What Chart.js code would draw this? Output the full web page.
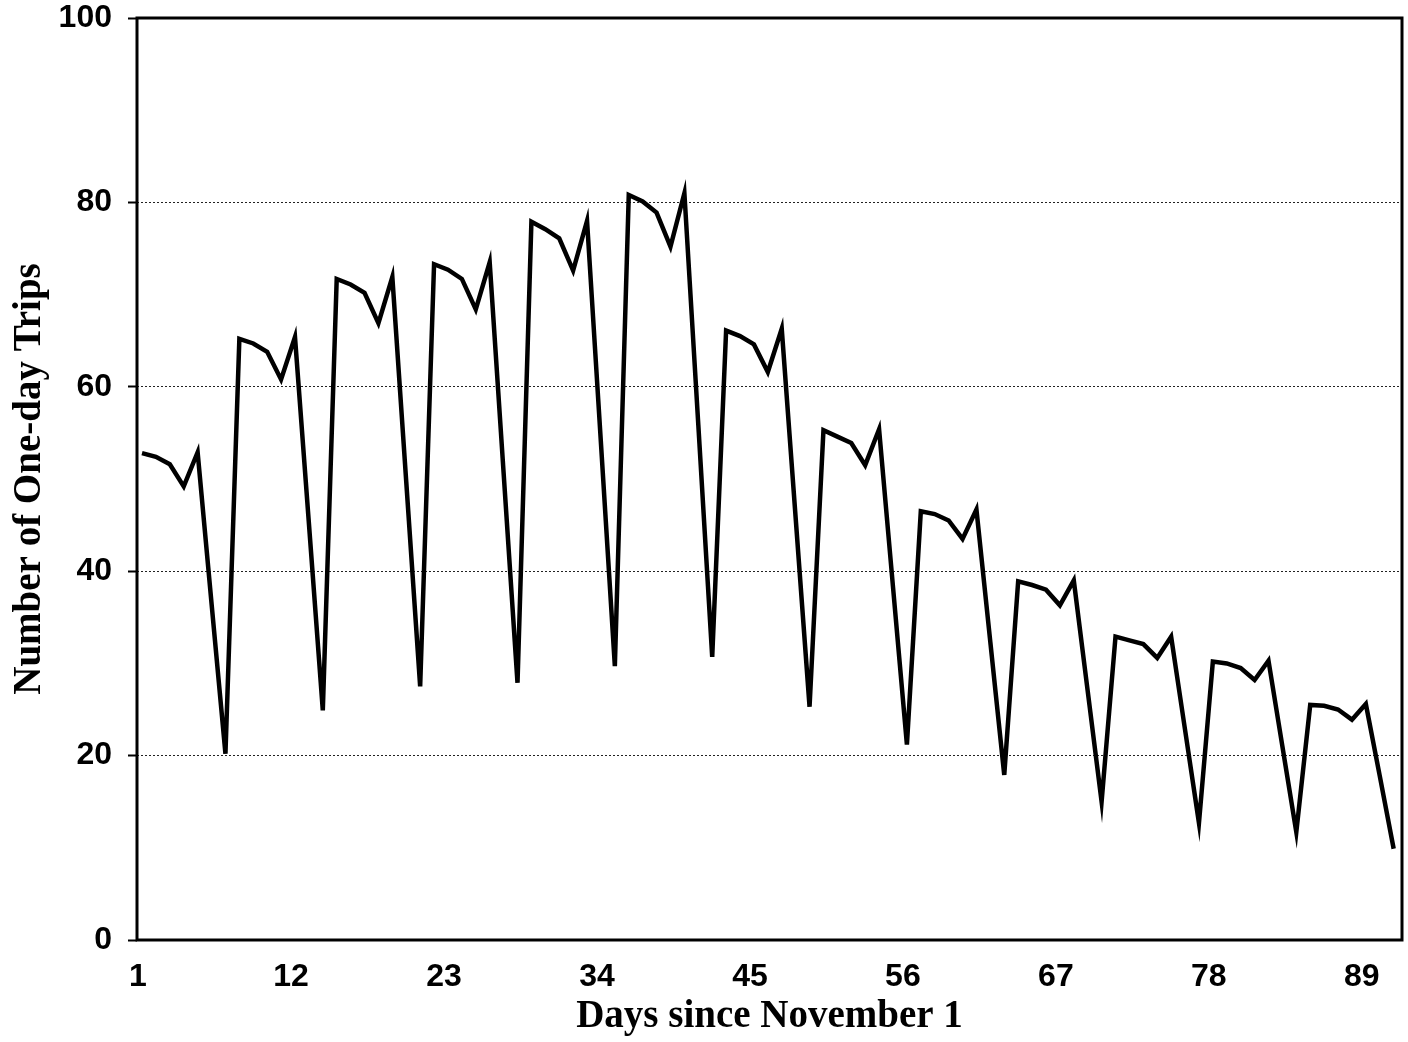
<!DOCTYPE html>
<html>
<head>
<meta charset="utf-8">
<script src="https://cdn.jsdelivr.net/npm/chart.js@4"></script>
<style>
  body { margin: 0; background: #fff; }
  #wrap { width: 1408px; height: 1042px; }
</style>
</head>
<body>
<div id="wrap"><canvas id="myChart" width="1408" height="1042"></canvas></div>
<script>
// days since November 1 (1..91)
const days = Array.from({ length: 91 }, (_, i) => i + 1);

// number of one-day trips
const trips = [
  52.8, 52.4, 51.6, 49.2, 52.9, 36.5, 20.2,
  65.2, 64.7, 63.8, 60.8, 65.4, 45.2, 24.9,
  71.7, 71.1, 70.2, 66.9, 71.9, 49.7, 27.5,
  73.3, 72.7, 71.7, 68.4, 73.5, 50.7, 27.9,
  77.9, 77.1, 76.1, 72.6, 78.0, 53.9, 29.7,
  80.8, 80.1, 78.9, 75.2, 81.0, 55.9, 30.7,
  66.1, 65.5, 64.6, 61.6, 66.3, 45.8, 25.3,
  55.3, 54.6, 53.9, 51.5, 55.4, 38.3, 21.2,
  46.5, 46.2, 45.5, 43.5, 46.7, 32.3, 17.9,
  38.9, 38.5, 38.0, 36.3, 39.0, 27.0, 15.0,
  32.9, 32.5, 32.1, 30.6, 32.9, 22.8, 12.7,
  30.2, 30.0, 29.5, 28.2, 30.3, 21.0, 11.7,
  25.5, 25.4, 25.0, 23.9, 25.6, 17.8, 9.9
];

const xTickLabels = [1, 12, 23, 34, 45, 56, 67, 78, 89];
const yTickLabels = [0, 20, 40, 60, 80, 100];

const tickFont = { family: "'Liberation Sans', Arial, sans-serif", weight: 'bold', size: 32 };
const titleFont = { family: "'Liberation Serif', 'Times New Roman', serif", weight: 'bold', size: 39 };

// black box round the plot area
const frame = {
  id: 'frame',
  afterDraw(chart) {
    const { ctx, chartArea: a } = chart;
    ctx.save();
    ctx.strokeStyle = '#000';
    ctx.lineWidth = 3;
    ctx.strokeRect(a.left, a.top, a.right - a.left, a.bottom - a.top);
    ctx.restore();
  }
};

function generateChart() {
  const tripChart = new Chart(
    document.getElementById('myChart'),
    {
      type: 'line',
      data: {
        datasets: [
          {
            label: 'Trips',
            data: days.map((d, i) => ({ x: d, y: trips[i] })),
            borderColor: '#000',
            borderWidth: 4.5,
            pointRadius: 0,
            tension: 0,
            fill: false
          }
        ]
      },
      plugins: [frame],
      options: {
        responsive: false,
        animation: false,
        layout: { padding: { top: 18, right: 6, left: 0, bottom: 0 } },
        plugins: {
          legend: { display: false },
          tooltip: { enabled: false }
        },
        scales: {
          x: {
            type: 'linear',
            min: 0.64,
            max: 91.6,
            afterBuildTicks: (scale) => {
              scale.ticks = xTickLabels.map(v => ({ value: v }));
            },
            afterFit: (scale) => {
              scale.height = 102;
              scale.paddingLeft = 0;
              scale.paddingRight = 0;
            },
            grid: { display: false, drawTicks: false },
            border: { display: false },
            ticks: {
              color: '#000',
              font: tickFont,
              padding: 18,
              labelOffset: -4,
              maxRotation: 0,
              autoSkip: false
            },
            title: {
              display: true,
              text: 'Days since November 1',
              color: '#000',
              font: titleFont,
              padding: { top: 0, bottom: 2 }
            }
          },
          y: {
            min: 0,
            max: 100,
            afterBuildTicks: (scale) => {
              scale.ticks = yTickLabels.map(v => ({ value: v }));
            },
            afterFit: (scale) => {
              scale.width = 137;
              scale.paddingTop = 0;
              scale.paddingBottom = 0;
            },
            grid: {
              color: (ctx) => (ctx.tick && (ctx.tick.value === 0 || ctx.tick.value === 100)) ? 'rgba(0,0,0,0)' : '#222',
              lineWidth: 1,
              tickColor: '#000',
              tickLength: 9,
              tickWidth: 2
            },
            border: { display: false, dash: [2, 2] },
            ticks: {
              color: '#000',
              font: tickFont,
              padding: 16
            },
            title: {
              display: true,
              text: 'Number of One-day Trips',
              color: '#000',
              font: titleFont,
              padding: { top: 7, bottom: 0 }
            }
          }
        }
      }
    }
  );
}

generateChart();
</script>
</body>
</html>
